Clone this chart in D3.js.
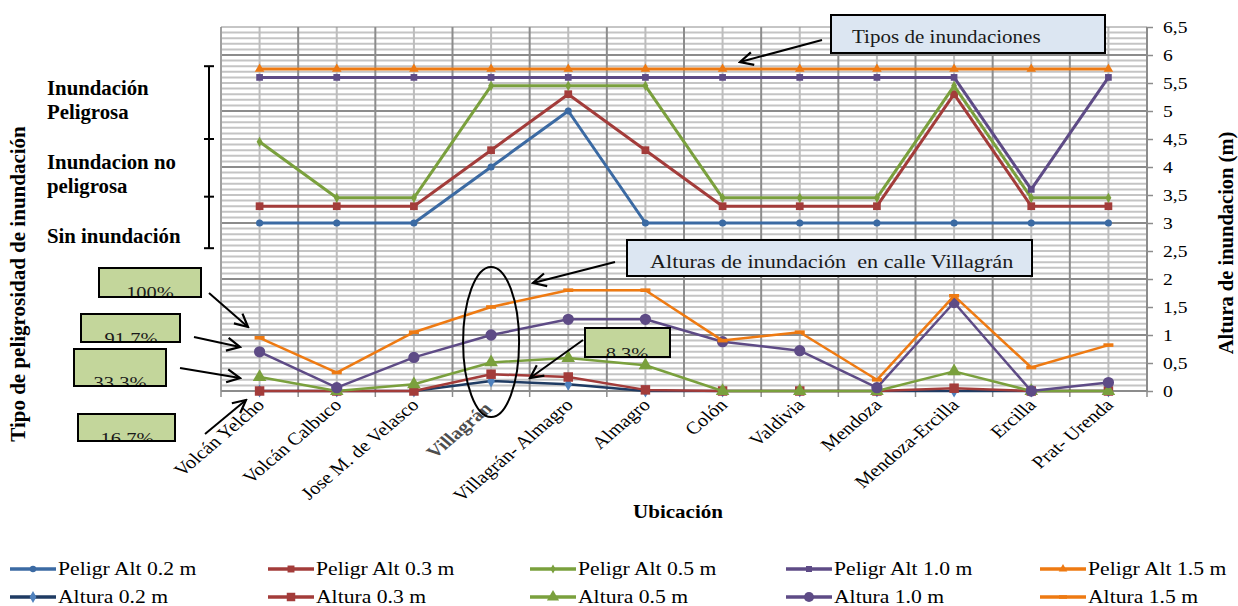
<!DOCTYPE html>
<html><head><meta charset="utf-8">
<script src="https://cdn.jsdelivr.net/npm/d3@7"></script>
<style>
html,body{margin:0;padding:0;background:#fff;}
svg{display:block;font-family:"Liberation Serif","Times New Roman",serif;}
</style></head>
<body>
<svg id="chart" width="1238" height="606"></svg>
<script>
const categories = ["Volcán Yelcho","Volcán Calbuco","Jose M. de Velasco","Villagrán","Villagrán- Almagro","Almagro","Colón","Valdivia","Mendoza","Mendoza-Ercilla","Ercilla","Prat- Urenda"];
const peligr02 = [3,3,3,4,5,3,3,3,3,3,3,3];
const peligr03 = [3.3,3.3,3.3,4.3,5.3,4.3,3.3,3.3,3.3,5.3,3.3,3.3];
const peligr05 = [4.45,3.45,3.45,5.45,5.45,5.45,3.45,3.45,3.45,5.45,3.45,3.45];
const peligr10 = [5.6,5.6,5.6,5.6,5.6,5.6,5.6,5.6,5.6,5.6,3.6,5.6];
const peligr15 = [5.75,5.75,5.75,5.75,5.75,5.75,5.75,5.75,5.75,5.75,5.75,5.75];
const altura02 = [0,0,0,0.18,0.12,0,0,0,0,0,0,0];
const altura03 = [0,0,0,0.3,0.25,0.02,0,0,0,0.05,0,0];
const altura05 = [0.25,0,0.12,0.51,0.59,0.46,0,0,0,0.35,0,0];
const altura10 = [0.7,0.06,0.6,1.0,1.28,1.28,0.88,0.72,0.06,1.58,0,0.15];
const altura15 = [0.95,0.33,1.05,1.5,1.8,1.8,0.9,1.05,0.2,1.7,0.42,0.82];
const yTicks = [0,0.5,1,1.5,2,2.5,3,3.5,4,4.5,5,5.5,6,6.5];
const seriesNames = ["Peligr Alt 0.2 m","Peligr Alt 0.3 m","Peligr Alt 0.5 m","Peligr Alt 1.0 m","Peligr Alt 1.5 m","Altura 0.2 m","Altura 0.3 m","Altura 0.5 m","Altura 1.0 m","Altura 1.5 m"];

const svg = d3.select("#chart");
const L=221, R=1147, T=27, B=391;
const SX=1.17;
const x = d3.scalePoint().domain(categories).range([L,R]).padding(0.5);
const step = x.step();
const y = d3.scaleLinear().domain([0,6.5]).range([B,T]);

function stext(parent, tx, ty, txt, fs, sx, extra){
  const t = parent.append("text").attr("transform",`translate(${tx},${ty}) scale(${sx},1)${extra||""}`)
    .attr("font-size",fs).attr("xml:space","preserve").text(txt);
  return t;
}

// grid
const g = svg.append("g");
d3.range(1,65).forEach(i=>{
  const v=i/10;
  if (i%10===0) return;
  g.append("line").attr("x1",L).attr("x2",R).attr("y1",y(v)).attr("y2",y(v)).attr("stroke","#c4c4c4").attr("stroke-width",2);
});
categories.forEach(c=>{
  g.append("line").attr("x1",x(c)).attr("x2",x(c)).attr("y1",T).attr("y2",B).attr("stroke","#bdbdbd").attr("stroke-width",2);
});
d3.range(1,7).forEach(v=>{
  g.append("line").attr("x1",L).attr("x2",R).attr("y1",y(v)).attr("y2",y(v)).attr("stroke","#8c8c8c").attr("stroke-width",2);
});
d3.range(0,13).forEach(i=>{
  const xx=L+i*step;
  g.append("line").attr("x1",xx).attr("x2",xx).attr("y1",T).attr("y2",B).attr("stroke",i===0?"#a0a0a0":"#8c8c8c").attr("stroke-width",2);
});
g.append("line").attr("x1",L).attr("x2",R).attr("y1",y(6.5)).attr("y2",y(6.5)).attr("stroke","#8c8c8c").attr("stroke-width",1);

// bottom axis
const xb = svg.append("g");
xb.append("line").attr("x1",L).attr("x2",R).attr("y1",B).attr("y2",B).attr("stroke","#8c8c8c").attr("stroke-width",2);
d3.range(0,13).forEach(i=>{
  const xx=L+i*step;
  xb.append("line").attr("x1",xx).attr("x2",xx).attr("y1",B).attr("y2",B+6).attr("stroke","#8c8c8c").attr("stroke-width",1.5);
});
categories.forEach(c=>{
  const isV = c==="Villagrán";
  const t = stext(xb, x(c)+6, B+15, c, 17.5, SX, " rotate(-45)").attr("text-anchor","end")
    .attr("font-weight",isV?"bold":"normal").attr("fill",isV?"#4d4d4d":"#000");
  if (isV) t.attr("dx",-5);
});

// right axis
const yAxis = d3.axisRight(y).tickValues(yTicks).tickSize(6).tickFormat("");
const ya = svg.append("g").attr("transform",`translate(${R},0)`).call(yAxis);
ya.select(".domain").attr("stroke","#8c8c8c").attr("stroke-width",2).attr("d",`M0,${T}V${B}`);
ya.selectAll(".tick line").attr("stroke","#8c8c8c").attr("stroke-width",1.5);
yTicks.forEach(v=>{
  stext(svg, R+16, y(v)+6, String(v).replace(".",","), 17.5, 1.12);
});

// series
const colors = {
  blue:"#3b6aa3", red:"#a33c3a", green:"#7aa03d", purple:"#5e4b86", orange:"#ee7a12", navy:"#1f3b63"
};
const series = [
  {name:seriesNames[0], data:peligr02, color:colors.blue, w:3, sym:d3.symbolCircle, size:40, mfill:colors.blue},
  {name:seriesNames[1], data:peligr03, color:colors.red, w:3, sym:d3.symbolSquare, size:60, mfill:colors.red},
  {name:seriesNames[2], data:peligr05, color:colors.green, w:3, sym:d3.symbolDiamond, size:30, mfill:colors.green},
  {name:seriesNames[3], data:peligr10, color:colors.purple, w:3, sym:d3.symbolSquare, size:45, mfill:colors.purple},
  {name:seriesNames[4], data:peligr15, color:colors.orange, w:3, sym:d3.symbolTriangle, size:40, mfill:colors.orange},
  {name:seriesNames[5], data:altura02, color:colors.navy, w:2.5, sym:d3.symbolDiamond, size:50, mfill:"#4f81bd"},
  {name:seriesNames[6], data:altura03, color:colors.red, w:2.5, sym:d3.symbolSquare, size:90, mfill:colors.red},
  {name:seriesNames[7], data:altura05, color:colors.green, w:2.5, sym:d3.symbolTriangle, size:80, mfill:colors.green},
  {name:seriesNames[8], data:altura10, color:colors.purple, w:2.5, sym:d3.symbolCircle, size:100, mfill:colors.purple},
  {name:seriesNames[9], data:altura15, color:colors.orange, w:2.5, sym:"dash", size:0, mfill:colors.orange}
];
const line = d3.line().x((d,i)=>x(categories[i])).y(d=>y(d));
const sg = svg.append("g");
function drawMarker(sel, s, cx, cy, scale){
  scale = scale||1;
  if (s.sym==="dash"){
    sel.append("rect").attr("x",cx-5*scale).attr("y",cy-1.8).attr("width",10*scale).attr("height",3.6).attr("fill",s.mfill);
  } else {
    sel.append("path").attr("d",d3.symbol().type(s.sym).size(s.size*scale)()).attr("transform",`translate(${cx},${cy})`).attr("fill",s.mfill);
  }
}
series.forEach(s=>{
  const gg = sg.append("g");
  gg.append("path").attr("d",line(s.data)).attr("fill","none").attr("stroke",s.color).attr("stroke-width",s.w).attr("stroke-linejoin","round");
  s.data.forEach((v,i)=>drawMarker(gg,s,x(categories[i]),y(v)));
});

// annotations
const defs = svg.append("defs");
defs.append("marker").attr("id","arr").attr("viewBox","0 0 16 16").attr("refX",14).attr("refY",8)
  .attr("markerWidth",16).attr("markerHeight",16).attr("markerUnits","userSpaceOnUse").attr("orient","auto")
  .append("path").attr("d","M1,1.5 L14,8 L1,14.5").attr("fill","none").attr("stroke","#000").attr("stroke-width",2.2);
const an = svg.append("g");
function arrow(x1,y1,x2,y2){
  an.append("line").attr("x1",x1).attr("y1",y1).attr("x2",x2).attr("y2",y2).attr("stroke","#000").attr("stroke-width",2).attr("marker-end","url(#arr)");
}
function box(x0,y0,w,h,fill,txt,tx,ty,fs,clip){
  const gb = an.append("g");
  gb.append("rect").attr("x",x0).attr("y",y0).attr("width",w).attr("height",h).attr("fill",fill).attr("stroke","#000").attr("stroke-width",2);
  const id="c"+Math.round(x0)+"_"+Math.round(y0);
  let holder = gb;
  if (clip){
    defs.append("clipPath").attr("id",id).append("rect").attr("x",x0).attr("y",y0).attr("width",w).attr("height",h);
    holder = gb.append("g").attr("clip-path",`url(#${id})`);
  }
  const t=stext(holder, tx, ty, txt, fs, SX).attr("fill","#1a1a1a");
  if (clip) t.attr("text-anchor","middle");
  gb.append("rect").attr("x",x0).attr("y",y0).attr("width",w).attr("height",h).attr("fill","none").attr("stroke","#000").attr("stroke-width",2);
}
// Tipos de inundaciones
box(831,15,274,38,"#dce6f2","Tipos de inundaciones",852,43,18,false);
arrow(822,40,740,62);
// Alturas box
box(627,240,405,36,"#dce6f2","Alturas de inundación  en calle Villagrán",650,268,19,false);
arrow(615,262,533,283);
// Ellipse
an.append("ellipse").attr("cx",x("Villagrán")).attr("cy",342).attr("rx",28).attr("ry",75).attr("fill","none").attr("stroke","#000").attr("stroke-width",2);
// green boxes
const gfill="#c3d69b";
box(99,268,102,29,gfill,"100%",150,298,17.5,true);
box(81,314,99,28,gfill,"91.7%",131,344,17.5,true);
box(74,349,92,37,gfill,"33.3%",120,388,17.5,true);
box(78,414,97,27,gfill,"16.7%",127,444,17.5,true);
box(585,328,85,29,gfill,"8.3%",627,359,17.5,true);
arrow(209,293,248,327);
arrow(194,337,240,347);
arrow(180,368,240,378);
arrow(205,434,246,400);
arrow(583,340,530,378);

// bracket
const br = svg.append("g");
const bx=209;
br.append("line").attr("x1",bx).attr("x2",bx).attr("y1",y(5.8)).attr("y2",y(2.55)).attr("stroke","#000").attr("stroke-width",2);
[5.8,4.5,3.47,2.55].forEach(v=>{
  br.append("line").attr("x1",bx-5).attr("x2",bx+5).attr("y1",y(v)).attr("y2",y(v)).attr("stroke","#000").attr("stroke-width",2);
});
const lab = svg.append("g").attr("font-weight","bold");
[["Inundación",95],["Peligrosa",119],["Inundacion no",169],["peligrosa",193],["Sin inundación",243]].forEach(d=>{
  stext(lab, 47, d[1], d[0], 20, 1.04);
});

// axis titles
svg.append("text").attr("transform","translate(25,284) rotate(-90)").attr("text-anchor","middle")
  .attr("font-weight","bold").attr("font-size",21).text("Tipo de peligrosidad de inundación");
svg.append("text").attr("transform","translate(1233,243) rotate(-90)").attr("text-anchor","middle")
  .attr("font-weight","bold").attr("font-size",20.5).text("Altura de inundacion (m)");
stext(svg, 678, 518, "Ubicación", 18, SX).attr("text-anchor","middle").attr("font-weight","bold");

// legend
const lg = svg.append("g");
const colX=[10,268,530,786,1040];
series.forEach((s,i)=>{
  const col=i%5,row=Math.floor(i/5);
  const lx=colX[col], ly=row===0?569:597;
  lg.append("line").attr("x1",lx).attr("x2",lx+46).attr("y1",ly).attr("y2",ly).attr("stroke",s.color).attr("stroke-width",3.5);
  drawMarker(lg,s,lx+23,ly,0.8);
  stext(lg, lx+48, ly+6, s.name, 18.5, SX);
});
</script>
</body></html>
